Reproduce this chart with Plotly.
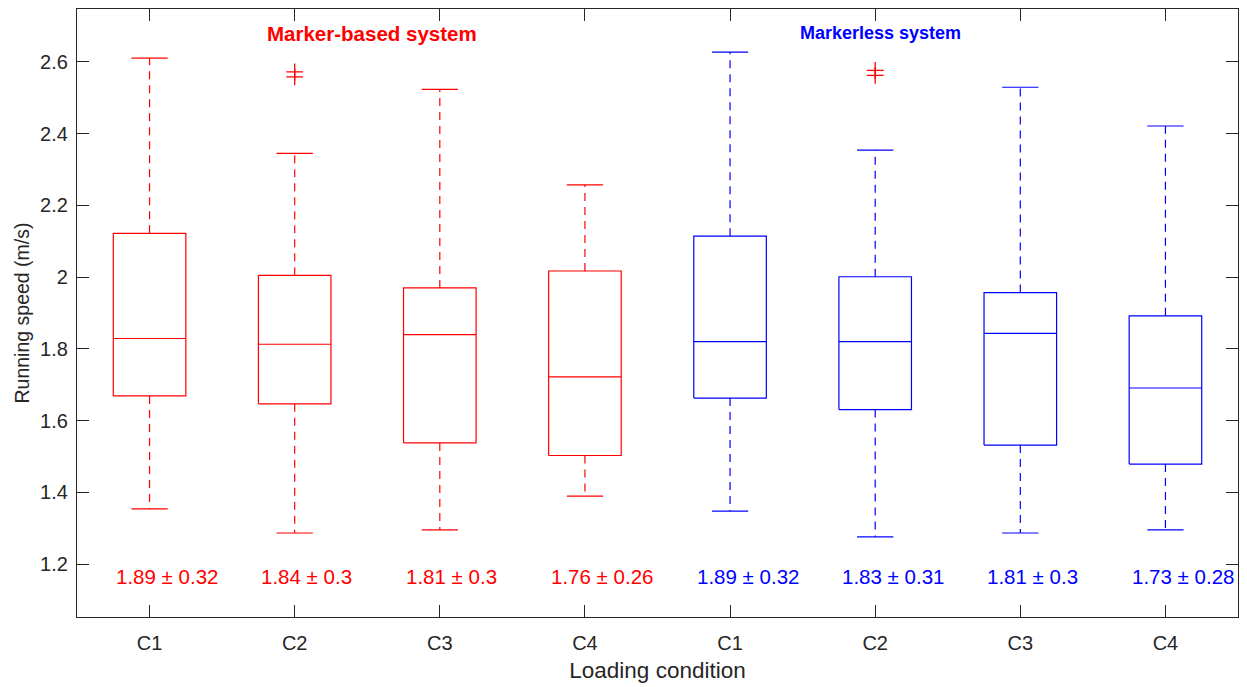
import plotly.graph_objects as go

# Running speed (m/s) box statistics per loading condition and system
conditions = ["C1", "C2", "C3", "C4", "C1", "C2", "C3", "C4"]
systems = ["Marker-based"] * 4 + ["Markerless"] * 4
q1 = [1.669, 1.647, 1.538, 1.503, 1.663, 1.631, 1.532, 1.479]
median = [1.829, 1.813, 1.840, 1.722, 1.820, 1.820, 1.843, 1.691]
q3 = [2.122, 2.005, 1.970, 2.017, 2.114, 2.001, 1.957, 1.892]
lower_whisker = [1.354, 1.287, 1.296, 1.390, 1.348, 1.276, 1.287, 1.296]
upper_whisker = [2.610, 2.345, 2.523, 2.257, 2.627, 2.354, 2.529, 2.421]
outliers = [[], [2.572, 2.558], [], [], [], [2.576, 2.562], [], []]
summary = ["1.89 ± 0.32", "1.84 ± 0.3", "1.81 ± 0.3", "1.76 ± 0.26",
           "1.89 ± 0.32", "1.83 ± 0.31", "1.81 ± 0.3", "1.73 ± 0.28"]

system_colors = {"Marker-based": "#ff0000", "Markerless": "#0000ff"}
outlier_color = "#ff0000"
axis_color = "#262626"
font_family = "Liberation Sans, Arial, Helvetica, sans-serif"

box_half = 0.25
cap_half = 0.125

fig = go.Figure()

for i, cond in enumerate(conditions):
    pos = i + 1
    color = system_colors[systems[i]]
    # box outline
    fig.add_trace(go.Scatter(
        x=[pos - box_half, pos + box_half, pos + box_half, pos - box_half, pos - box_half],
        y=[q1[i], q1[i], q3[i], q3[i], q1[i]],
        mode="lines", line=dict(color=color, width=1.2),
        hoverinfo="skip", showlegend=False))
    # median
    fig.add_trace(go.Scatter(
        x=[pos - box_half, pos + box_half], y=[median[i], median[i]],
        mode="lines", line=dict(color=color, width=1.2),
        hoverinfo="skip", showlegend=False))
    # dashed whiskers
    fig.add_trace(go.Scatter(
        x=[pos, pos, None, pos, pos],
        y=[q3[i], upper_whisker[i], None, q1[i], lower_whisker[i]],
        mode="lines", line=dict(color=color, width=1.2, dash="8px,6px"),
        hoverinfo="skip", showlegend=False))
    # whisker caps
    fig.add_trace(go.Scatter(
        x=[pos - cap_half, pos + cap_half, None, pos - cap_half, pos + cap_half],
        y=[upper_whisker[i], upper_whisker[i], None, lower_whisker[i], lower_whisker[i]],
        mode="lines", line=dict(color=color, width=1.2),
        hoverinfo="skip", showlegend=False))
    # outliers
    if outliers[i]:
        fig.add_trace(go.Scatter(
            x=[pos] * len(outliers[i]), y=outliers[i], mode="markers",
            marker=dict(symbol="cross-thin", size=12,
                        line=dict(color=outlier_color, width=1.3)),
            hoverinfo="skip", showlegend=False))
    # mean ± SD label
    fig.add_annotation(
        x=pos - 0.245, y=1.167, text=summary[i], showarrow=False,
        xanchor="left", yanchor="middle",
        font=dict(family=font_family, size=20.5, color=color))

fig.add_annotation(x=2.53, y=2.679, text="<b>Marker-based system</b>", showarrow=False,
                   font=dict(family=font_family, size=20.5, color="#ff0000"))
fig.add_annotation(x=6.04, y=2.679, text="<b>Markerless system</b>", showarrow=False,
                   font=dict(family=font_family, size=18, color="#0000ff"))

y_ticks = [1.2, 1.4, 1.6, 1.8, 2.0, 2.2, 2.4, 2.6]
y_tick_text = ["1.2", "1.4", "1.6", "1.8", "2", "2.2", "2.4", "2.6"]

fig.update_layout(
    width=1247, height=687,
    margin=dict(l=77, r=8, t=8, b=69),
    paper_bgcolor="white", plot_bgcolor="white",
    font=dict(family=font_family, size=20, color=axis_color),
    xaxis=dict(
        range=[0.5, 8.5], tickmode="array", tickvals=list(range(1, 9)),
        ticktext=conditions, ticks="inside", ticklen=12, tickcolor=axis_color,
        showline=True, linecolor=axis_color, linewidth=1.2, mirror="allticks",
        showgrid=False, zeroline=False, ticklabelstandoff=8,
        title=dict(text="Loading condition", font=dict(size=22.5), standoff=9),
        tickfont=dict(size=20)),
    yaxis=dict(
        range=[1.053, 2.747], tickmode="array", tickvals=y_ticks,
        ticktext=y_tick_text, ticks="inside", ticklen=12, tickcolor=axis_color,
        showline=True, linecolor=axis_color, linewidth=1.2, mirror="allticks",
        showgrid=False, zeroline=False, ticklabelstandoff=4,
        title=dict(text="Running speed (m/s)", font=dict(size=19.5), standoff=5),
        tickfont=dict(size=20)),
)

fig.write_html("out.html")
